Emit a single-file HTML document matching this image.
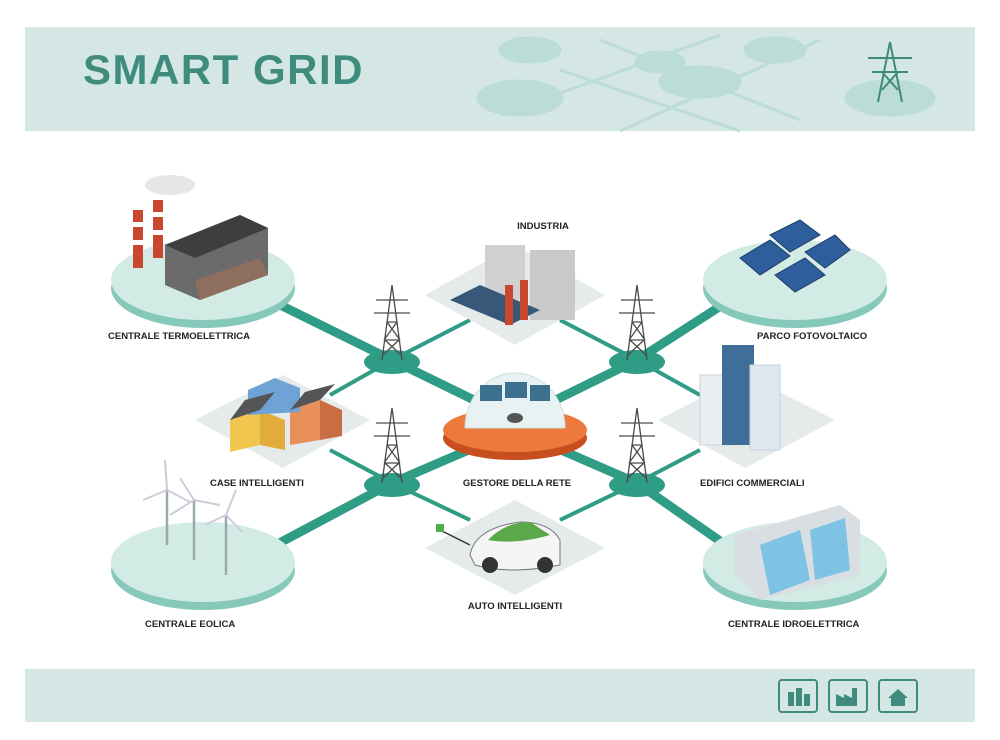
<!DOCTYPE html>
<html><head><meta charset="utf-8"><style>
html,body{margin:0;padding:0;background:#fff;}
svg{display:block;font-family:"Liberation Sans",sans-serif;}
.l{font-size:9.5px;font-weight:bold;fill:#222;}
</style></head><body>
<svg width="1000" height="740" viewBox="0 0 1000 740">
<defs>
<g id="tower" stroke="#4a4a4a" stroke-width="1.3" fill="none">
<path d="M0,-75 L-10,0 M0,-75 L10,0 M-5,-38 L5,-38 M-7,-20 L7,-20 M-16,-60 L16,-60 M-18,-47 L18,-47 M-8,-20 L5,-38 M8,-20 L-5,-38 M-9,-5 L7,-20 M9,-5 L-7,-20"/>
</g>
<g id="disc">
<ellipse cx="0" cy="8" rx="92" ry="40" fill="#86c9bb"/>
<ellipse cx="0" cy="0" rx="92" ry="40" fill="#d2ebe5"/>
</g>
</defs>
<rect x="25" y="27" width="950" height="104" fill="#d4e7e4"/>
<g fill="#bcdcd6" stroke="#bcdcd6" stroke-width="3">
<ellipse cx="530" cy="50" rx="30" ry="12"/><ellipse cx="520" cy="98" rx="42" ry="17"/>
<ellipse cx="660" cy="62" rx="24" ry="10"/><ellipse cx="775" cy="50" rx="30" ry="12"/>
<ellipse cx="700" cy="82" rx="40" ry="15"/><ellipse cx="890" cy="98" rx="44" ry="17"/>
<line x1="560" y1="70" x2="740" y2="131" fill="none"/><line x1="500" y1="115" x2="720" y2="35" fill="none"/>
<line x1="600" y1="40" x2="800" y2="120" fill="none"/><line x1="620" y1="131" x2="820" y2="40" fill="none"/>
</g>
<text x="83" y="84" font-size="42" font-weight="bold" fill="#3f8c7e" letter-spacing="1.5">SMART GRID</text>
<g stroke="#3f8c7e" stroke-width="2" fill="none"><path d="M890,42 L878,102 M890,42 L902,102 M868,58 L912,58 M872,72 L908,72 M882,72 L898,90 M898,72 L882,90"/></g>
<rect x="25" y="669" width="950" height="53" fill="#d4e7e4"/>
<g fill="none" stroke="#3f8c7e" stroke-width="2">
<rect x="779" y="680" width="38" height="32" rx="3"/><rect x="829" y="680" width="38" height="32" rx="3"/><rect x="879" y="680" width="38" height="32" rx="3"/>
</g>
<g fill="#3f8c7e">
<rect x="788" y="692" width="6" height="14"/><rect x="796" y="688" width="6" height="18"/><rect x="804" y="694" width="6" height="12"/>
<path d="M836,706 L836,694 L844,698 L844,694 L852,698 L852,688 L857,688 L857,706Z"/>
<path d="M888,698 L898,689 L908,698 L905,698 L905,706 L891,706 L891,698Z"/>
</g>
<g stroke="#2f9c86" stroke-width="9" stroke-linecap="round">
<line x1="270" y1="300" x2="392" y2="360"/><line x1="392" y1="360" x2="515" y2="420"/>
<line x1="730" y1="300" x2="637" y2="360"/><line x1="637" y1="360" x2="515" y2="420"/>
<line x1="270" y1="548" x2="392" y2="483"/><line x1="392" y1="483" x2="515" y2="430"/>
<line x1="730" y1="548" x2="637" y2="483"/><line x1="637" y1="483" x2="515" y2="430"/>
</g>
<g stroke="#2f9c86" stroke-width="4">
<line x1="392" y1="360" x2="470" y2="320"/><line x1="637" y1="360" x2="560" y2="320"/>
<line x1="392" y1="360" x2="330" y2="395"/><line x1="637" y1="360" x2="700" y2="395"/>
<line x1="392" y1="483" x2="330" y2="450"/><line x1="637" y1="483" x2="700" y2="450"/>
<line x1="392" y1="483" x2="470" y2="520"/><line x1="637" y1="483" x2="560" y2="520"/>
</g>
<use href="#disc" x="203" y="280"/><use href="#disc" x="795" y="280"/>
<use href="#disc" x="203" y="562"/><use href="#disc" x="795" y="562"/>
<g fill="#e4ebea">
<polygon points="515,245 605,295 515,345 425,295"/>
<polygon points="283,375 370,420 283,468 195,420"/>
<polygon points="745,375 835,420 745,468 658,420"/>
<polygon points="515,500 605,548 515,595 425,548"/>
</g>
<g fill="#2f9c86"><ellipse cx="392" cy="362" rx="28" ry="12"/><ellipse cx="637" cy="362" rx="28" ry="12"/><ellipse cx="392" cy="485" rx="28" ry="12"/><ellipse cx="637" cy="485" rx="28" ry="12"/></g>
<use href="#tower" x="392" y="360"/><use href="#tower" x="637" y="360"/><use href="#tower" x="392" y="483"/><use href="#tower" x="637" y="483"/>
<ellipse cx="515" cy="438" rx="72" ry="22" fill="#c94e1e"/>
<ellipse cx="515" cy="430" rx="72" ry="22" fill="#ec7a3c"/>
<path d="M465,428 A50,55 0 0 1 565,428 Z" fill="#e8f2f2" stroke="#cfdede"/>
<rect x="480" y="385" width="22" height="16" fill="#3d6f8f"/><rect x="505" y="382" width="22" height="16" fill="#3d6f8f"/><rect x="530" y="385" width="20" height="16" fill="#3d6f8f"/>
<ellipse cx="515" cy="418" rx="8" ry="5" fill="#555"/>
<rect x="133" y="210" width="10" height="58" fill="#c8472e"/><rect x="153" y="200" width="10" height="58" fill="#c8472e"/>
<g fill="#fff"><rect x="133" y="222" width="10" height="5"/><rect x="133" y="240" width="10" height="5"/><rect x="153" y="212" width="10" height="5"/><rect x="153" y="230" width="10" height="5"/></g>
<ellipse cx="170" cy="185" rx="25" ry="10" fill="#e6e6e6"/>
<polygon points="165,245 240,215 268,228 268,275 200,300 165,285" fill="#6b6b6b"/>
<polygon points="165,245 240,215 268,228 195,258" fill="#3e3e3e"/>
<polygon points="195,280 260,258 268,275 200,300" fill="#8e6e5e"/>
<ellipse cx="505" cy="265" rx="20" ry="8" fill="#bbb"/><rect x="485" y="245" width="40" height="55" fill="#d0d0d0"/>
<rect x="530" y="250" width="45" height="70" fill="#c9c9c9"/>
<polygon points="450,300 480,285 540,310 510,325" fill="#38587a"/>
<rect x="505" y="285" width="8" height="40" fill="#c8472e"/><rect x="520" y="280" width="8" height="40" fill="#c8472e"/>
<g fill="#2f5e9c" stroke="#1d3c6a">
<polygon points="740,258 770,240 790,256 760,275"/><polygon points="775,275 805,258 825,275 795,292"/>
<polygon points="770,235 800,220 820,235 790,252"/><polygon points="805,252 835,235 850,250 825,268"/>
</g>
<polygon points="230,420 260,410 260,445 230,452" fill="#f0c64e"/><polygon points="260,410 285,420 285,450 260,445" fill="#e1ac3a"/>
<polygon points="290,410 320,400 320,440 290,445" fill="#e88f5a"/><polygon points="320,400 342,410 342,436 320,440" fill="#c96d42"/>
<polygon points="248,390 275,378 300,388 300,412 248,415" fill="#6fa3d6"/>
<polygon points="230,420 245,400 275,392 260,410" fill="#555"/><polygon points="290,410 305,392 335,384 320,400" fill="#555"/>
<rect x="700" y="375" width="30" height="70" fill="#e9eef2" stroke="#c7d0d8"/>
<rect x="722" y="345" width="32" height="100" fill="#3f6f98"/>
<rect x="750" y="365" width="30" height="85" fill="#dfe8ef" stroke="#c7d0d8"/>
<g stroke="#9aa" stroke-width="2.5"><line x1="167" y1="545" x2="167" y2="490"/><line x1="194" y1="560" x2="194" y2="500"/><line x1="226" y1="575" x2="226" y2="515"/></g>
<g stroke="#ccd" stroke-width="2"><path d="M167,490 L165,460 M167,490 L143,500 M167,490 L190,502 M194,500 L180,478 M194,500 L170,515 M194,500 L220,505 M226,515 L236,490 M226,515 L205,525 M226,515 L242,532"/></g>
<polygon points="735,535 840,505 860,520 860,575 760,600 735,575" fill="#d9dee2"/>
<polygon points="760,545 800,530 810,580 770,595" fill="#7fc3e4"/><polygon points="810,530 845,518 850,570 815,580" fill="#7fc3e4"/>
<path d="M470,555 Q475,528 520,522 Q550,522 560,540 L560,565 Q510,575 475,565Z" fill="#f5f5f5" stroke="#777"/>
<path d="M488,540 Q505,522 530,522 L550,535 Q515,545 488,540Z" fill="#5aa84a"/>
<circle cx="490" cy="565" r="8" fill="#333"/><circle cx="545" cy="565" r="8" fill="#333"/>
<line x1="440" y1="530" x2="470" y2="545" stroke="#333" stroke-width="1.5"/><rect x="436" y="524" width="8" height="8" fill="#4caf50"/>
<text class="l" x="543" y="229" text-anchor="middle">INDUSTRIA</text>
<text class="l" x="108" y="339">CENTRALE TERMOELETTRICA</text>
<text class="l" x="757" y="339">PARCO FOTOVOLTAICO</text>
<text class="l" x="210" y="486">CASE INTELLIGENTI</text>
<text class="l" x="517" y="486" text-anchor="middle">GESTORE DELLA RETE</text>
<text class="l" x="700" y="486">EDIFICI COMMERCIALI</text>
<text class="l" x="515" y="609" text-anchor="middle">AUTO INTELLIGENTI</text>
<text class="l" x="145" y="627">CENTRALE EOLICA</text>
<text class="l" x="728" y="627">CENTRALE IDROELETTRICA</text>
</svg>
</body></html>
